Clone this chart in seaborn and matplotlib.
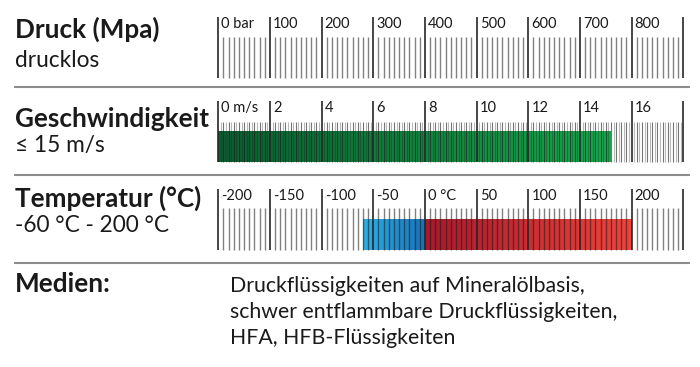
import numpy as np
import matplotlib
matplotlib.use('Agg')
import matplotlib.pyplot as plt
import seaborn as sns

sns.set_theme(style='white')
plt.rcParams['font.family'] = ['Lato', 'DejaVu Sans']

W, H = 700, 367
TXT = '#1a1a1a'

# Skalen (min, max, Hauptteilung, Nebenteilung)
druck_scale = (0, 900, 100, 10)
druck_labels = ['0 bar', '100', '200', '300', '400', '500', '600', '700', '800']

geschw_scale = (0, 18, 2, 0.1)
geschw_labels = ['0 m/s', '2', '4', '6', '8', '10', '12', '14', '16']
geschw_bar = (0, 15.2)

temp_scale = (-200, 250, 50, 5)
temp_labels = ['-200', '-150', '-100', '-50', '0 °C', '50', '100', '150', '200']
temp_cold = (-60, 0)
temp_hot = (0, 200)

titel = ['Druck (Mpa)', 'Geschwindigkeit', 'Temperatur (°C)']
werte = ['drucklos', '≤ 15 m/s', '-60 °C - 200 °C']
medien = ['Druckflüssigkeiten auf Mineralölbasis,',
          'schwer entflammbare Druckflüssigkeiten,',
          'HFA, HFB-Flüssigkeiten']

green = sns.blend_palette(['#0b5e31', '#17a84d'], as_cmap=True)
blue = sns.blend_palette(['#2cb0e6', '#1a72b8'], as_cmap=True)
red = sns.blend_palette(['#a8192b', '#f0433a'], as_cmap=True)

fig = plt.figure(figsize=(W / 100, H / 100), dpi=100)

# Hintergrund-Achse in Pixeln fuer Texte und Trennlinien
bg = fig.add_axes([0, 0, 1, 1])
bg.set_xlim(0, W)
bg.set_ylim(H, 0)
bg.axis('off')

for yb, t in zip([38, 127, 207], titel):
    bg.text(15, yb, t, fontsize=18.8, fontweight='bold', color=TXT, va='baseline')
for yb, t in zip([67, 152, 232], werte):
    bg.text(15, yb, t, fontsize=16.3, color=TXT, va='baseline')
bg.text(15, 292, 'Medien:', fontsize=18.8, fontweight='bold', color=TXT, va='baseline')
for yb, t in zip([292, 318, 344], medien):
    bg.text(230, yb, t, fontsize=15.3, color=TXT, va='baseline')
for ys in [87, 175, 263]:
    bg.plot([14, 690], [ys, ys], color='#8c8c8c', lw=1.5, solid_capstyle='butt')


def skala(top, scale, labels, minor_h, bars=(), alt=False):
    lo, hi, major, minor = scale
    left, width, height = 218.3, 465.0, 61.5
    ax = fig.add_axes([left / W, 1 - (top + height) / H, width / W, height / H])
    ax.patch.set_alpha(0)
    for (a, b), cmap in bars:
        grad = np.linspace(0, 1, 256)[None, :]
        ax.imshow(grad, extent=(a, b, 0, 0.5), aspect='auto', cmap=cmap, zorder=1)
    n_minor = int(round((hi - lo) / minor))
    mins = lo + np.arange(n_minor + 1) * minor
    step = int(round(major / minor))
    idx = np.arange(n_minor + 1)
    keep = idx % step != 0
    if alt:
        dark = keep & (idx % 2 == 0)
        light = keep & (idx % 2 == 1)
        ax.vlines(mins[dark], 0, minor_h, color='k', alpha=0.6, lw=0.8, zorder=2, clip_on=False)
        ax.vlines(mins[light], 0, minor_h, color='k', alpha=0.3, lw=0.8, zorder=2, clip_on=False)
    else:
        ax.vlines(mins[keep], 0, minor_h, color='k', alpha=0.55, lw=1.0, zorder=2, clip_on=False)
    majs = np.arange(lo, hi + major / 2, major)
    ax.vlines(majs, 0, 1, color='#262626', lw=1.2, zorder=3, clip_on=False)
    for m, lab in zip(majs, labels):
        ax.annotate(lab, xy=(m, 1), xytext=(3, -7), textcoords='offset pixels',
                    fontsize=10.5, color=TXT, ha='left', va='center')
    ax.set_xlim(lo, hi)
    ax.set_ylim(0, 1)
    ax.axis('off')
    return ax


skala(16.7, druck_scale, druck_labels, 0.67)
skala(101.0, geschw_scale, geschw_labels, 0.66, bars=[(geschw_bar, green)], alt=True)
skala(188.5, temp_scale, temp_labels, 0.69, bars=[(temp_cold, blue), (temp_hot, red)])

fig.savefig('out.png', dpi=100)
